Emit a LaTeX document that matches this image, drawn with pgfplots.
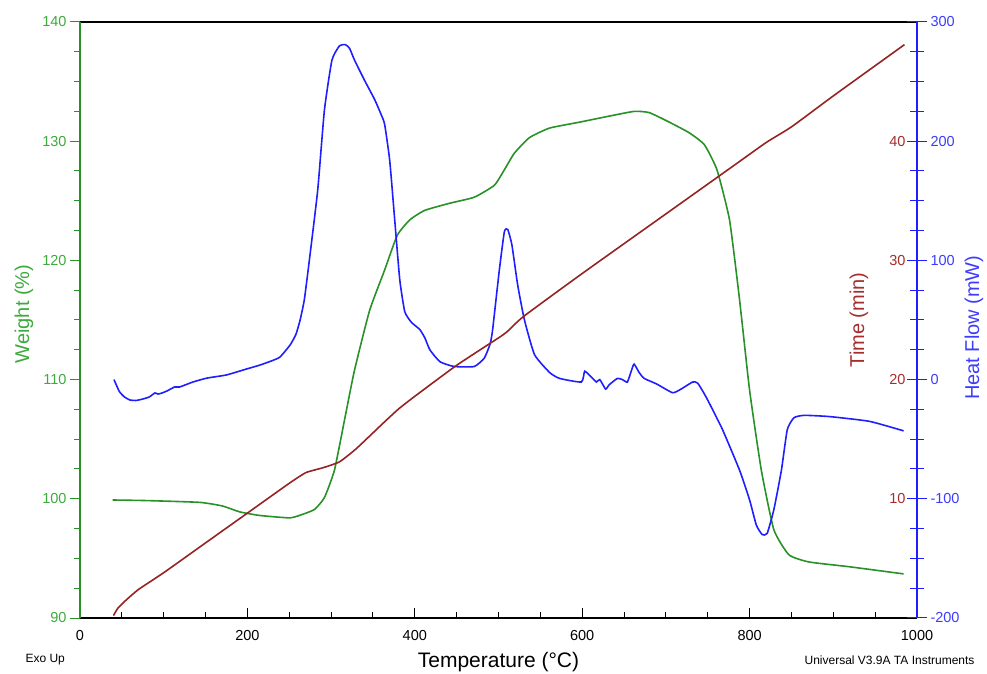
\documentclass[border=0pt]{standalone}
\usepackage{pgfplots}
\pgfplotsset{compat=1.18}
\usepackage{fontspec}
\setmainfont{Liberation Sans}
\definecolor{wgreen}{RGB}{40,145,40}
\definecolor{wlab}{RGB}{60,170,60}
\definecolor{hblue}{RGB}{30,30,255}
\definecolor{hlab}{RGB}{60,60,255}
\definecolor{tred}{RGB}{150,35,35}
\definecolor{tlab}{RGB}{165,45,45}

\pgfplotsset{
  base/.style={
    scale only axis, width=837pt, height=596pt,
    xmin=0, xmax=1000,
    /pgf/number format/assume math mode=true,
    /pgf/number format/1000 sep={},
    tick label style={font=\fontsize{14.5}{16}\selectfont},
    clip=false,
  }
}

\begin{document}
\begin{tikzpicture}
% weight (left axis) and temperature
\begin{axis}[base, name=main,
    separate axis lines,
    ymin=90, ymax=140, ytick={90,100,...,140}, minor y tick num=3,
    xtick={0,200,...,1000}, minor x tick num=3,
    xtick pos=lower, ytick pos=left,
    xtick align=inside, ytick align=outside,
    major tick length=10pt, minor tick length=6pt,
    axis line style={black, line width=1.2pt},
    x axis line style={black},
    y axis line style={wgreen},
    ytick style={wgreen, line width=1pt},
    xtick style={black, line width=1pt},
    yticklabel style={text=wlab},
    xticklabel style={yshift=-9pt},
    xlabel={Temperature (°C)}, ylabel={Weight (\%)},
    every axis x label/.style={at={([yshift=-44pt]axis description cs:0.5,0)}, anchor=center, font=\fontsize{21}{24}\selectfont},
    every axis y label/.style={at={([xshift=-56pt]axis description cs:0,0.51)}, rotate=90, anchor=center, font=\fontsize{20}{24}\selectfont, text=wlab},
  ]
\addplot[wgreen, line width=1.6pt, smooth, tension=0.3] coordinates {
(39,99.9) (80,99.85) (143,99.7) (170,99.4) (191,98.9) (215,98.6) (250,98.4) (262,98.6)
(280,99.1) (292,100.1) (304,102.4) (316,106.6) (328,110.8) (346,115.8) (364,119.2)
(379,122.1) (394,123.4) (412,124.2) (442,124.8) (471,125.3) (495,126.3) (507,127.6)
(519,129.0) (537,130.3) (561,131.1) (597,131.6) (632,132.1) (662,132.5) (680,132.4)
(704,131.6) (728,130.7) (746,129.7) (761,127.6) (776,123.4) (788,116.7) (800,109.1)
(814,102.4) (829,97.4) (847,95.3) (871,94.7) (919,94.3) (984,93.7)
};
\coordinate (sw) at (rel axis cs:0,0);
\coordinate (ne) at (rel axis cs:1,1);
\node[anchor=west, font=\fontsize{12}{14}\selectfont] at ([xshift=-58pt,yshift=-42pt]rel axis cs:0,0) {Exo Up};
\node[anchor=east, font=\fontsize{12}{14}\selectfont] at ([xshift=61pt,yshift=-42pt]rel axis cs:1,0) {Universal V3.9A TA Instruments};
\end{axis}

% heat flow (right axis)
\begin{axis}[base,
    axis y line*=right, axis x line=none,
    ymin=-200, ymax=300, ytick={-200,-100,...,300}, minor y tick num=3,
    ytick align=center, major tick length=20pt, minor tick length=14pt,
    y axis line style={hblue, line width=1.2pt},
    ytick style={hblue, line width=1pt},
    yticklabel style={text=hlab},
    ylabel={Heat Flow (mW)},
    every axis y label/.style={at={([xshift=57pt]axis description cs:1,0.487)}, rotate=90, anchor=center, font=\fontsize{20}{24}\selectfont, text=hlab},
  ]
\addplot[hblue, line width=1.6pt, smooth, tension=0.3] coordinates {
(40.6,0) (47,-10) (53,-14.5) (59.7,-17.1) (67,-17.5) (75,-16.3) (83,-14.5) (89.5,-11.2)
(93,-12.1) (97,-11.5) (103.8,-9.6) (113,-6.2) (119,-6.2) (135,-2.0) (152,1.3) (175,3.9)
(199,8.9) (215,12.2) (230,16) (239,19) (251,29) (258,38) (263,50) (268,67) (274,100)
(284,159) (292,226) (301,268) (310,280) (317,281) (322,278) (328,268) (340,251)
(352,235) (360,222) (364,214) (370,184) (376,134) (382,84) (388,57) (396,48) (406,42)
(412,35) (418,25) (430,15) (447,11) (471,11) (483,18) (490,30) (493,42) (501,92)
(507,124) (511,126) (516,113) (523,79) (531,50) (543,21) (561,6) (573,1) (599,-2)
(603,7) (611,2) (617,-2) (621,0) (628,-8) (632,-4.5) (642,1) (648,0) (654,-2) (659,8)
(662,13) (668,6) (674,1) (689,-3.7) (708,-11) (718,-8) (732,-2) (738,-3) (748,-14.6)
(767,-41) (788,-76) (800,-101) (808,-122) (815,-130) (821,-129) (829,-109) (838,-76)
(845,-42) (853,-32) (865,-30) (895,-31) (943,-35) (984,-43)
};
\end{axis}

% time (labels inside, right)
\begin{axis}[base,
    axis y line*=right, axis x line=none,
    ymin=0, ymax=50, ytick={10,20,30,40},
    y axis line style={draw=none}, ytick style={draw=none},
    major tick length=0pt,
    yticklabel style={text=tlab, anchor=east, xshift=-8pt},
    ylabel={Time (min)},
    every axis y label/.style={at={([xshift=-58pt]axis description cs:1,0.5)}, rotate=90, anchor=center, font=\fontsize{20}{24}\selectfont, text=tlab},
  ]
\addplot[tred, line width=1.6pt, smooth, tension=0.3] coordinates {
(40,0.2) (45,0.8) (55,1.5) (70,2.4) (100,3.8) (150,6.3) (200,8.8) (250,11.3) (270,12.2)
(290,12.6) (310,13.1) (330,14.2) (360,16.2) (380,17.5) (400,18.6) (450,21.2) (500,23.5)
(510,24.0) (530,25.3) (600,28.9) (700,33.9) (780,37.9) (820,39.9) (850,41.2) (900,43.8)
(985,48.1)
};
\end{axis}

\pgfresetboundingbox
\path ([xshift=-80pt,yshift=-56pt]sw) rectangle ([xshift=70pt,yshift=22pt]ne);
\end{tikzpicture}
\end{document}
